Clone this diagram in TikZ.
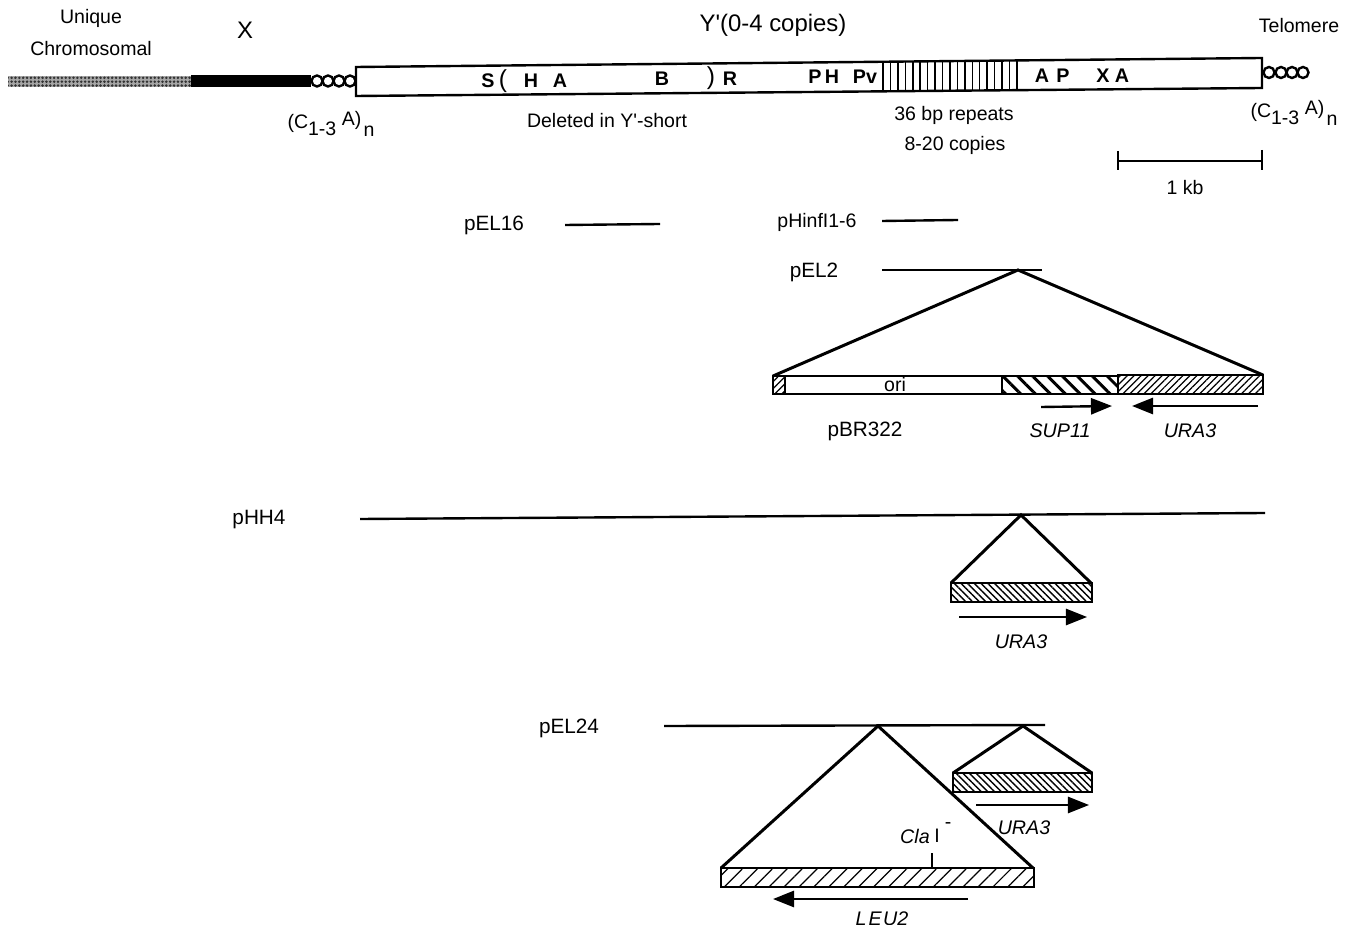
\documentclass[tikz,border=0pt]{standalone}
\usepackage{fontspec}
\setmainfont{Liberation Sans}
\usepackage{tikz}
\usetikzlibrary{patterns.meta,calc,arrows.meta}
\tikzset{
  lab/.style={font=\fontsize{5.55}{6.5}\selectfont, inner sep=0pt},
  plab/.style={font=\fontsize{5.9}{7}\selectfont, inner sep=0pt},
  biglab/.style={font=\fontsize{6.8}{8}\selectfont, inner sep=0pt},
  gene/.style={font=\fontsize{5.6}{6.5}\selectfont\itshape, inner sep=0pt},
  site/.style={font=\fontsize{5.6}{6.5}\selectfont\bfseries, inner sep=0pt},
  map/.style={line width=0.68pt},
  cone/.style={line width=0.85pt},
  genearrow/.style={line width=0.68pt, -{Triangle[length=6pt,width=4.6pt]}},
  finene/.style={pattern={Lines[angle=45,distance=1.4pt,line width=0.35pt]}},
  finenw/.style={pattern={Lines[angle=-45,distance=1.35pt,line width=0.4pt]}},
  coarsenw/.style={pattern={Lines[angle=-45,distance=3pt,line width=0.85pt]}},
  sparsene/.style={pattern={Lines[angle=45,distance=3pt,line width=0.35pt]}}
}
\newcommand{\Cn}{(C\raisebox{-0.7ex}{1-3} \raisebox{0.25ex}{A)}\raisebox{-0.8ex}{\kern.12em n}}
\begin{document}
\begin{tikzpicture}[x=0.01cm,y=-0.01cm]
  \useasboundingbox (0,0) rectangle (1352,925);

  % Chromosome end
  \fill[black!35] (8,76) rectangle (191,87);
  \fill[pattern={Dots[distance=1.1pt,radius=0.4pt]}, pattern color=black!80] (8,76) rectangle (191,87);
  \fill[black] (191,75) rectangle (311,87);
  \foreach \cx in {317,328,339,350}{
    \draw[map, fill=white] (\cx,81) circle[radius=5.5];
  }
  \foreach \cx in {1269,1281,1292,1303}{
    \draw[map, fill=white] (\cx,72.5) circle[radius=5.5];
  }

  % Y' box, the scan leans a little
  \coordinate (boxtl) at (356,67);
  \coordinate (boxtr) at (1262,58);
  \coordinate (boxbr) at (1262,88);
  \coordinate (boxbl) at (356,96);
  \draw[map, fill=white] (boxtl) -- (boxtr) -- (boxbr) -- (boxbl) -- cycle;

  % 36 bp repeats
  \foreach \i in {0,...,18}{
    \pgfmathsetmacro{\t}{(883+7.44*\i-356)/906}
    \draw[line width=0.42pt] ($(boxtl)!\t!(boxtr)$) -- ($(boxbl)!\t!(boxbr)$);
  }

  % Labels over the top row
  \node[lab] (unique) at (91,18) {Unique};
  \node[lab] (chromo) at (91,49) {Chromosomal};
  \node[biglab] (xlab) at (245,30) {X};
  \node[biglab] (ylab) at (773,25) {Y\textquotesingle(0-4 copies)};
  \node[lab] (telo) at (1299,26) {Telomere};
  \node[lab] (cnleft) at (331,124) {\Cn};
  \node[lab] (cnright) at (1294,113) {\Cn};

  % Restriction sites
  \foreach \n/\sx/\sy/\lab in {
    1/488/81/S, 2/531/81/H, 3/560/81/A, 4/662/79/B, 5/730/79/R,
    6/815/77/P, 7/832/77/H, 8/865/77/Pv, 9/1042/76/A, 10/1063/76/P,
    11/1103/76/X, 12/1122/76/A%
  }{
    \node[site] (site\n) at (\sx,\sy) {\lab};
  }
  \node[lab] (delleft) at (503,81) {\fontsize{7}{8}\selectfont(};
  \node[lab] (delright) at (711,78) {\fontsize{7}{8}\selectfont)};
  \node[lab] (deleted) at (607,121) {Deleted in Y\textquotesingle-short};
  \node[lab] (repeats) at (954,115) {36 bp repeats};
  \node[lab] (copies) at (955,145) {8-20 copies};

  % Scale bar
  \coordinate (scaleL) at (1118,161);
  \coordinate (scaleR) at (1262,161);
  \draw[map] (scaleL) -- (scaleR);
  \draw[map] (1118,151) -- (1118,170);
  \draw[map] (1262,150) -- (1262,170);
  \node[lab] (kb) at (1185,188) {1 kb};

  % Probes
  \node[plab] (pelsixteen) at (494,225) {pEL16};
  \node[lab] (phinf) at (817,222) {pHinfI1-6};
  \node[plab] (peltwo) at (814,272) {pEL2};
  \draw[map] (565,225) -- (660,224);
  \draw[map] (882,221) -- (958,220);
  \draw[map] (882,270) -- (1042,270);

  % pEL2 insert
  \coordinate (apexA) at (1018,270);
  \coordinate (insAL) at (773,376);
  \coordinate (insAR) at (1263,375);
  \draw[cone] (insAL) -- (apexA) -- (insAR);
  \draw[map, finene] (773,376) rectangle (785,394);
  \draw[map, fill=white] (785,376) rectangle (1002,394);
  \draw[map, coarsenw] (1002,376) rectangle (1118,394);
  \draw[map, finene] (1118,375) rectangle (1263,394);
  \node[lab] (ori) at (895,385) {ori};
  \coordinate (supS) at (1041,407);
  \coordinate (supE) at (1112,406);
  \coordinate (uraS) at (1258,406);
  \coordinate (uraE) at (1132,406);
  \draw[genearrow] (supS) -- (supE);
  \draw[genearrow] (uraS) -- (uraE);
  \node[plab] (pbr) at (865,431) {pBR322};
  \node[gene] (sup) at (1060,431) {SUP11};
  \node[gene] (uraA) at (1190,431) {URA3};

  % pHH4 insert
  \node[plab] (phh) at (259,520) {pHH4};
  \draw[map] (360,519) -- (1265,513);
  \coordinate (apexB) at (1021,515);
  \coordinate (insBL) at (951,583);
  \coordinate (insBR) at (1091,583);
  \draw[cone] (insBL) -- (apexB) -- (insBR);
  \draw[map, finenw] (951,583) rectangle (1092,602);
  \coordinate (uraBS) at (959,617);
  \coordinate (uraBE) at (1087,617);
  \draw[genearrow] (uraBS) -- (uraBE);
  \node[gene] (uraB) at (1021,642) {URA3};

  % pEL24 inserts
  \node[plab] (pel) at (569,728) {pEL24};
  \draw[map] (664,726) -- (1045,725);
  \coordinate (apexC) at (878,726);
  \coordinate (insCL) at (721,868);
  \coordinate (insCR) at (1033,868);
  \draw[cone] (insCL) -- (apexC) -- (insCR);
  \draw[map, sparsene] (721,868) rectangle (1034,887);
  \coordinate (apexD) at (1023,726);
  \coordinate (insDL) at (953,773);
  \coordinate (insDR) at (1092,773);
  \draw[cone] (insDL) -- (apexD) -- (insDR);
  \draw[map, finenw] (953,773) rectangle (1092,792);
  \coordinate (uraDS) at (976,805);
  \coordinate (uraDE) at (1089,805);
  \draw[genearrow] (uraDS) -- (uraDE);
  \node[gene] (uraD) at (1024,828) {URA3};
  \coordinate (leuS) at (968,899);
  \coordinate (leuE) at (773,899);
  \draw[genearrow] (leuS) -- (leuE);
  \node[gene] (leu) at (882,919) {L\kern.1em E\kern.08em U2};

  % Cla I mark
  \draw[map] (932,853) -- (932,868);
  \node[gene] (cla) at (915,836) {Cla};
  \node[lab] (claone) at (937,836) {I};
  \node[lab] (minus) at (948,826) {-};
\end{tikzpicture}
\end{document}
